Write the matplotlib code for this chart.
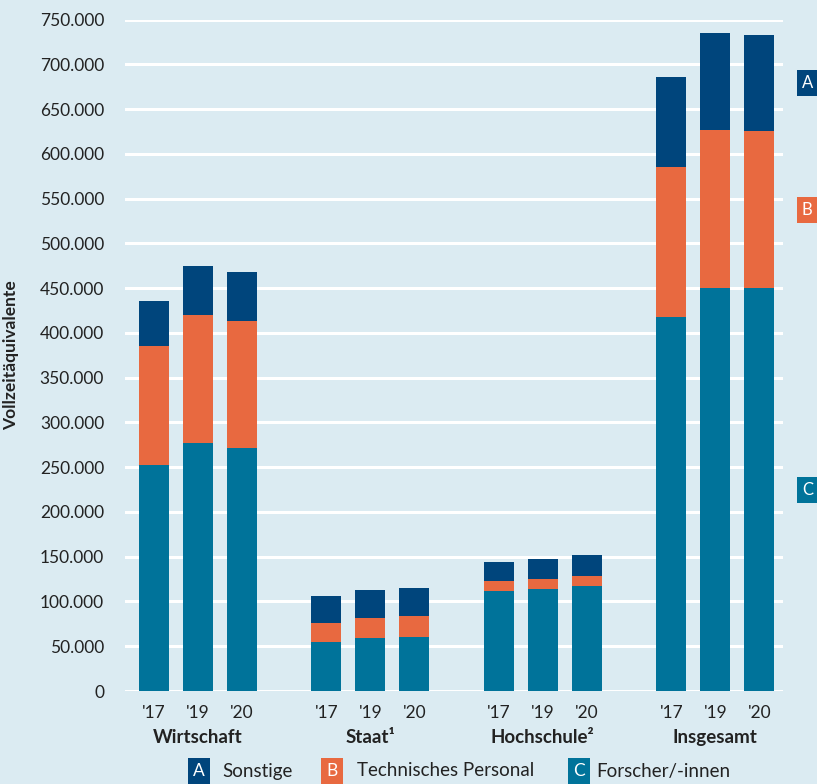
import matplotlib.pyplot as plt
from matplotlib.ticker import FuncFormatter

plt.rcParams['font.family'] = ['Lato', 'DejaVu Sans']

groups = ["Wirtschaft", "Staat\u00b9", "Hochschule\u00b2", "Insgesamt"]
years = ["'17", "'19", "'20"]

# values in full-time equivalents, per group: '17, '19, '20
forscher = [252000, 277000, 271000,
            55000, 59500, 60000,
            112000, 114000, 117000,
            418000, 450000, 450000]
technisch = [133000, 143000, 142000,
             21000, 21500, 24000,
             11000, 11000, 11000,
             167000, 177000, 175000]
sonstige = [51000, 55000, 55000,
            30000, 32000, 31000,
            21000, 22000, 24000,
            101000, 108000, 108000]

c_a = "#00457c"
c_b = "#e86940"
c_c = "#00739a"
bg = "#dbebf2"

fig = plt.figure(figsize=(8.17, 7.84), dpi=100, facecolor=bg)
ax = fig.add_axes([125 / 817, 1 - 691 / 784, (783 - 125) / 817, (691 - 19.5) / 784])
ax.set_facecolor(bg)

step = 3.92
x = [g * step + j for g in range(4) for j in range(3)]
w = 0.68
bottom2 = [f + t for f, t in zip(forscher, technisch)]
ax.bar(x, forscher, w, color=c_c, zorder=3)
ax.bar(x, technisch, w, bottom=forscher, color=c_b, zorder=3)
ax.bar(x, sonstige, w, bottom=bottom2, color=c_a, zorder=3)

ax.set_ylim(0, 750000)
ax.set_xlim(-0.66, 14.3)
ax.set_yticks(range(0, 750001, 50000))
ax.yaxis.set_major_formatter(FuncFormatter(lambda v, p: f"{int(v):,}".replace(",", ".")))
ax.grid(axis="y", color="white", linewidth=2.2, zorder=1)
ax.tick_params(axis="y", length=0, labelsize=12.5, pad=15, labelcolor="#222222")
ax.tick_params(axis="x", length=0, labelsize=12.5, pad=10, labelcolor="#222222")
ax.set_xticks(x)
ax.set_xticklabels(years * 4)
for s in ax.spines.values():
    s.set_visible(False)

for g, name in enumerate(groups):
    ax.text(g * step + 1, -0.069, name, transform=ax.get_xaxis_transform(),
            ha="center", va="center", fontsize=13.5, fontweight="bold", color="#222222")

ax.set_ylabel("Vollzeitäquivalente", fontsize=12.5, fontweight="bold", color="#222222")
ax.yaxis.set_label_coords(-106 / 658, 0.5)

# segment labels at the right
lx = 14.3 + 19 / 44
last = len(x) - 1
for val, lab, col in [(bottom2[last] + sonstige[last] / 2, "A", c_a),
                      (forscher[last] + technisch[last] / 2, "B", c_b),
                      (forscher[last] / 2, "C", c_c)]:
    ax.text(lx, val, lab, ha="left", va="center", color="white", fontsize=12,
            bbox=dict(boxstyle="square,pad=0.3", fc=col, ec="none"), clip_on=False)

# legend at bottom
ly = 1 - 771 / 784
for bx, tx, lab, col, txt in [(199, 222, "A", c_a, "Sonstige"),
                              (332, 357, "B", c_b, "Technisches Personal"),
                              (579, 596, "C", c_c, "Forscher/-innen")]:
    fig.text(bx / 817, ly, lab, ha="center", va="center", color="white", fontsize=12.5,
             bbox=dict(boxstyle="square,pad=0.3", fc=col, ec="none"))
    fig.text(tx / 817, ly, txt, ha="left", va="center", color="#222222", fontsize=13.5)

fig.savefig("out.png", dpi=100, facecolor=bg)
